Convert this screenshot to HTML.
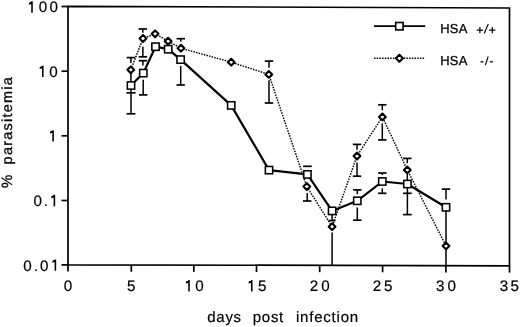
<!DOCTYPE html>
<html><head><meta charset="utf-8"><style>
html,body{margin:0;padding:0;background:#fff;width:520px;height:327px;overflow:hidden}
svg{display:block;filter:grayscale(1)}
text{font-family:"Liberation Sans", sans-serif}
</style></head><body>
<svg width="520" height="327" viewBox="0 0 520 327">
<path d="M68,6.3 L509.5,8 L509.5,265.8 L68,264.8 Z" fill="none" stroke="#000" stroke-width="1.7"/>
<line x1="61.5" y1="6.5" x2="68" y2="6.5" stroke="#000" stroke-width="1.7"/>
<line x1="61.5" y1="71.2" x2="68" y2="71.2" stroke="#000" stroke-width="1.7"/>
<line x1="61.5" y1="135.8" x2="68" y2="135.8" stroke="#000" stroke-width="1.7"/>
<line x1="61.5" y1="200.5" x2="68" y2="200.5" stroke="#000" stroke-width="1.7"/>
<line x1="61.5" y1="264.9" x2="68" y2="264.9" stroke="#000" stroke-width="1.7"/>
<line x1="68" y1="264.8" x2="68" y2="271.6" stroke="#000" stroke-width="1.7"/>
<line x1="131.3" y1="264.94337485843715" x2="131.3" y2="271.74337485843716" stroke="#000" stroke-width="1.7"/>
<line x1="193.8" y1="265.0849377123443" x2="193.8" y2="271.8849377123443" stroke="#000" stroke-width="1.7"/>
<line x1="256.5" y1="265.22695356738393" x2="256.5" y2="272.02695356738394" stroke="#000" stroke-width="1.7"/>
<line x1="319.7" y1="265.3701019252548" x2="319.7" y2="272.1701019252548" stroke="#000" stroke-width="1.7"/>
<line x1="382.6" y1="265.512570781427" x2="382.6" y2="272.312570781427" stroke="#000" stroke-width="1.7"/>
<line x1="445.9" y1="265.6559456398641" x2="445.9" y2="272.4559456398641" stroke="#000" stroke-width="1.7"/>
<line x1="509.5" y1="265.8" x2="509.5" y2="272.6" stroke="#000" stroke-width="1.7"/>
<polyline points="131,85.5 143.3,73.1 155.5,46.7 168.2,49.2 180.6,59.6 231.2,105.4 269,170.1 307.4,174.4 332.1,210.9 357.3,200.8 382.3,181.5 407.4,184 446,207.3" fill="none" stroke="#000" stroke-width="2.2" stroke-linejoin="round"/>
<polyline points="130.8,69.8 143,38.5 155.1,33.8 168.1,41.2 181,48.2 231.2,62.2 268.8,74.4 306.8,186.6 332.1,226.7 357.0,156.0 382.4,116.9 407.3,169.9 446,245.9" fill="none" stroke="#000" stroke-width="1.45" stroke-dasharray="1.5 1.2"/>
<line x1="130.9" y1="63.0" x2="130.9" y2="57.6" stroke="#000" stroke-width="1.5"/>
<line x1="130.9" y1="73.0" x2="130.9" y2="82.0" stroke="#000" stroke-width="1.5"/>
<line x1="131.0" y1="89.0" x2="131.0" y2="113.8" stroke="#000" stroke-width="1.5"/>
<line x1="142.8" y1="32.8" x2="142.8" y2="29.0" stroke="#000" stroke-width="1.5"/>
<line x1="142.9" y1="46.7" x2="142.9" y2="56.8" stroke="#000" stroke-width="1.5"/>
<line x1="142.9" y1="65.6" x2="142.9" y2="60.7" stroke="#000" stroke-width="1.5"/>
<line x1="143.2" y1="79.8" x2="143.2" y2="94.9" stroke="#000" stroke-width="1.5"/>
<line x1="180.8" y1="41.8" x2="180.8" y2="38.7" stroke="#000" stroke-width="1.5"/>
<line x1="180.7" y1="66.0" x2="180.7" y2="85.0" stroke="#000" stroke-width="1.5"/>
<line x1="269.0" y1="67.7" x2="269.0" y2="61.1" stroke="#000" stroke-width="1.5"/>
<line x1="269.0" y1="80.2" x2="269.0" y2="103.0" stroke="#000" stroke-width="1.5"/>
<line x1="307.2" y1="193.1" x2="307.2" y2="201.0" stroke="#000" stroke-width="1.5"/>
<line x1="332.1" y1="214.0" x2="332.1" y2="220.6" stroke="#000" stroke-width="1.5"/>
<line x1="332.1" y1="232.5" x2="332.1" y2="265.2" stroke="#000" stroke-width="1.5"/>
<line x1="357.0" y1="149.8" x2="357.0" y2="144.4" stroke="#000" stroke-width="1.5"/>
<line x1="357.0" y1="162.6" x2="357.0" y2="176.2" stroke="#000" stroke-width="1.5"/>
<line x1="357.3" y1="194.1" x2="357.3" y2="189.9" stroke="#000" stroke-width="1.5"/>
<line x1="357.3" y1="207.4" x2="357.3" y2="220.2" stroke="#000" stroke-width="1.5"/>
<line x1="382.3" y1="110.3" x2="382.3" y2="104.8" stroke="#000" stroke-width="1.5"/>
<line x1="382.3" y1="123.4" x2="382.3" y2="139.9" stroke="#000" stroke-width="1.5"/>
<line x1="382.3" y1="175.0" x2="382.3" y2="173.0" stroke="#000" stroke-width="1.5"/>
<line x1="382.3" y1="188.4" x2="382.3" y2="193.3" stroke="#000" stroke-width="1.5"/>
<line x1="407.3" y1="163.2" x2="407.3" y2="158.4" stroke="#000" stroke-width="1.5"/>
<line x1="407.3" y1="173.5" x2="407.3" y2="180.5" stroke="#000" stroke-width="1.5"/>
<line x1="407.4" y1="187.5" x2="407.4" y2="214.6" stroke="#000" stroke-width="1.5"/>
<line x1="446.0" y1="199.5" x2="446.0" y2="189.1" stroke="#000" stroke-width="1.5"/>
<line x1="446.0" y1="211.0" x2="446.0" y2="242.0" stroke="#000" stroke-width="1.5"/>
<line x1="446.0" y1="250.0" x2="446.0" y2="265.2" stroke="#000" stroke-width="1.5"/>
<line x1="126.7" y1="57.6" x2="135.1" y2="57.6" stroke="#000" stroke-width="1.7"/>
<line x1="126.6" y1="113.8" x2="135.4" y2="113.8" stroke="#000" stroke-width="1.7"/>
<line x1="126.4" y1="92.8" x2="135.6" y2="92.8" stroke="#000" stroke-width="1.7"/>
<line x1="138.60000000000002" y1="29.0" x2="147.0" y2="29.0" stroke="#000" stroke-width="1.7"/>
<line x1="138.70000000000002" y1="56.8" x2="147.1" y2="56.8" stroke="#000" stroke-width="1.7"/>
<line x1="138.70000000000002" y1="60.7" x2="147.1" y2="60.7" stroke="#000" stroke-width="1.7"/>
<line x1="139.0" y1="94.9" x2="147.39999999999998" y2="94.9" stroke="#000" stroke-width="1.7"/>
<line x1="176.60000000000002" y1="38.7" x2="185.0" y2="38.7" stroke="#000" stroke-width="1.7"/>
<line x1="176.5" y1="85.0" x2="184.89999999999998" y2="85.0" stroke="#000" stroke-width="1.7"/>
<line x1="264.8" y1="61.1" x2="273.2" y2="61.1" stroke="#000" stroke-width="1.7"/>
<line x1="264.8" y1="103.0" x2="273.2" y2="103.0" stroke="#000" stroke-width="1.7"/>
<line x1="303.09999999999997" y1="166.3" x2="311.7" y2="166.3" stroke="#000" stroke-width="1.7"/>
<line x1="303.0" y1="201.0" x2="311.4" y2="201.0" stroke="#000" stroke-width="1.7"/>
<line x1="328.70000000000005" y1="220.6" x2="335.5" y2="220.6" stroke="#000" stroke-width="1.7"/>
<line x1="352.8" y1="144.4" x2="361.2" y2="144.4" stroke="#000" stroke-width="1.7"/>
<line x1="352.8" y1="176.2" x2="361.2" y2="176.2" stroke="#000" stroke-width="1.7"/>
<line x1="353.1" y1="189.9" x2="361.5" y2="189.9" stroke="#000" stroke-width="1.7"/>
<line x1="353.1" y1="220.2" x2="361.5" y2="220.2" stroke="#000" stroke-width="1.7"/>
<line x1="378.1" y1="104.8" x2="386.5" y2="104.8" stroke="#000" stroke-width="1.7"/>
<line x1="378.1" y1="139.9" x2="386.5" y2="139.9" stroke="#000" stroke-width="1.7"/>
<line x1="378.1" y1="173.0" x2="386.5" y2="173.0" stroke="#000" stroke-width="1.7"/>
<line x1="378.1" y1="193.3" x2="386.5" y2="193.3" stroke="#000" stroke-width="1.7"/>
<line x1="403.1" y1="158.4" x2="411.5" y2="158.4" stroke="#000" stroke-width="1.7"/>
<line x1="403.09999999999997" y1="214.6" x2="411.7" y2="214.6" stroke="#000" stroke-width="1.7"/>
<line x1="403.09999999999997" y1="193.3" x2="411.7" y2="193.3" stroke="#000" stroke-width="1.7"/>
<line x1="441.8" y1="189.1" x2="450.2" y2="189.1" stroke="#000" stroke-width="1.7"/>
<rect x="127.35" y="81.85" width="7.3" height="7.3" fill="#fff" stroke="#000" stroke-width="1.55"/>
<rect x="139.65" y="69.44999999999999" width="7.3" height="7.3" fill="#fff" stroke="#000" stroke-width="1.55"/>
<rect x="151.85" y="43.050000000000004" width="7.3" height="7.3" fill="#fff" stroke="#000" stroke-width="1.55"/>
<rect x="164.54999999999998" y="45.550000000000004" width="7.3" height="7.3" fill="#fff" stroke="#000" stroke-width="1.55"/>
<rect x="176.95" y="55.95" width="7.3" height="7.3" fill="#fff" stroke="#000" stroke-width="1.55"/>
<rect x="227.54999999999998" y="101.75" width="7.3" height="7.3" fill="#fff" stroke="#000" stroke-width="1.55"/>
<rect x="265.35" y="166.45" width="7.3" height="7.3" fill="#fff" stroke="#000" stroke-width="1.55"/>
<rect x="303.75" y="170.75" width="7.3" height="7.3" fill="#fff" stroke="#000" stroke-width="1.55"/>
<rect x="328.45000000000005" y="207.25" width="7.3" height="7.3" fill="#fff" stroke="#000" stroke-width="1.55"/>
<rect x="353.65000000000003" y="197.15" width="7.3" height="7.3" fill="#fff" stroke="#000" stroke-width="1.55"/>
<rect x="378.65000000000003" y="177.85" width="7.3" height="7.3" fill="#fff" stroke="#000" stroke-width="1.55"/>
<rect x="403.75" y="180.35" width="7.3" height="7.3" fill="#fff" stroke="#000" stroke-width="1.55"/>
<rect x="442.35" y="203.65" width="7.3" height="7.3" fill="#fff" stroke="#000" stroke-width="1.55"/>
<path d="M130.8,66.39999999999999 L134.20000000000002,69.8 L130.8,73.2 L127.4,69.8 Z" fill="#fff" stroke="#000" stroke-width="2.1" stroke-linejoin="round"/>
<path d="M143,35.1 L146.4,38.5 L143,41.9 L139.6,38.5 Z" fill="#fff" stroke="#000" stroke-width="2.1" stroke-linejoin="round"/>
<path d="M155.1,30.4 L158.5,33.8 L155.1,37.199999999999996 L151.7,33.8 Z" fill="#fff" stroke="#000" stroke-width="2.1" stroke-linejoin="round"/>
<path d="M168.1,37.800000000000004 L171.5,41.2 L168.1,44.6 L164.7,41.2 Z" fill="#fff" stroke="#000" stroke-width="2.1" stroke-linejoin="round"/>
<path d="M181,44.800000000000004 L184.4,48.2 L181,51.6 L177.6,48.2 Z" fill="#fff" stroke="#000" stroke-width="2.1" stroke-linejoin="round"/>
<path d="M231.2,58.800000000000004 L234.6,62.2 L231.2,65.60000000000001 L227.79999999999998,62.2 Z" fill="#fff" stroke="#000" stroke-width="2.1" stroke-linejoin="round"/>
<path d="M268.8,71.0 L272.2,74.4 L268.8,77.80000000000001 L265.40000000000003,74.4 Z" fill="#fff" stroke="#000" stroke-width="2.1" stroke-linejoin="round"/>
<path d="M306.8,183.2 L310.2,186.6 L306.8,190.0 L303.40000000000003,186.6 Z" fill="#fff" stroke="#000" stroke-width="2.1" stroke-linejoin="round"/>
<path d="M332.1,223.29999999999998 L335.5,226.7 L332.1,230.1 L328.70000000000005,226.7 Z" fill="#fff" stroke="#000" stroke-width="2.1" stroke-linejoin="round"/>
<path d="M357.0,152.6 L360.4,156.0 L357.0,159.4 L353.6,156.0 Z" fill="#fff" stroke="#000" stroke-width="2.1" stroke-linejoin="round"/>
<path d="M382.4,113.5 L385.79999999999995,116.9 L382.4,120.30000000000001 L379.0,116.9 Z" fill="#fff" stroke="#000" stroke-width="2.1" stroke-linejoin="round"/>
<path d="M407.3,166.5 L410.7,169.9 L407.3,173.3 L403.90000000000003,169.9 Z" fill="#fff" stroke="#000" stroke-width="2.1" stroke-linejoin="round"/>
<path d="M446,242.5 L449.4,245.9 L446,249.3 L442.6,245.9 Z" fill="#fff" stroke="#000" stroke-width="2.1" stroke-linejoin="round"/>
<line x1="374" y1="26.2" x2="425.2" y2="26.2" stroke="#000" stroke-width="1.7"/>
<rect x="395.7" y="22.5" width="7.4" height="7.4" fill="#fff" stroke="#000" stroke-width="1.6"/>
<line x1="374" y1="58.3" x2="425" y2="58.3" stroke="#000" stroke-width="1.45" stroke-dasharray="1.5 1.2"/>
<path d="M399.4,54.8 L402.9,58.3 L399.4,61.8 L395.9,58.3 Z" fill="#fff" stroke="#000" stroke-width="2.1" stroke-linejoin="round"/>
<path d="M31.22,1.30 L32.78,1.30 L32.78,12.65 L31.22,12.65 Z M31.42,1.30 L31.22,3.90 L28.90,4.70 L28.90,2.90 Z" fill="#000"/>
<text transform="translate(38.87,12.40) scale(1,1.0)" font-size="15.2" font-family="Liberation Sans, sans-serif" text-rendering="geometricPrecision" fill="#000" stroke="#000" stroke-width="0.22">0</text>
<text transform="translate(49.57,12.40) scale(1,1.0)" font-size="15.2" font-family="Liberation Sans, sans-serif" text-rendering="geometricPrecision" fill="#000" stroke="#000" stroke-width="0.22">0</text>
<path d="M42.02,65.70 L43.58,65.70 L43.58,77.05 L42.02,77.05 Z M42.22,65.70 L42.02,68.30 L39.70,69.10 L39.70,67.30 Z" fill="#000"/>
<text transform="translate(49.17,76.80) scale(1,1.0)" font-size="15.2" font-family="Liberation Sans, sans-serif" text-rendering="geometricPrecision" fill="#000" stroke="#000" stroke-width="0.22">0</text>
<path d="M52.32,130.20 L53.88,130.20 L53.88,141.55 L52.32,141.55 Z M52.52,130.20 L52.32,132.80 L50.00,133.60 L50.00,131.80 Z" fill="#000"/>
<text transform="translate(33.52,205.90) scale(1,1.0)" font-size="15.2" font-family="Liberation Sans, sans-serif" text-rendering="geometricPrecision" fill="#000" stroke="#000" stroke-width="0.22">0</text>
<text transform="translate(43.84,205.90) scale(1,1.0)" font-size="15.2" font-family="Liberation Sans, sans-serif" text-rendering="geometricPrecision" fill="#000" stroke="#000" stroke-width="0.22">.</text>
<path d="M53.62,194.80 L55.18,194.80 L55.18,206.15 L53.62,206.15 Z M53.82,194.80 L53.62,197.40 L51.30,198.20 L51.30,196.40 Z" fill="#000"/>
<text transform="translate(23.37,270.50) scale(1,1.0)" font-size="15.2" font-family="Liberation Sans, sans-serif" text-rendering="geometricPrecision" fill="#000" stroke="#000" stroke-width="0.22">0</text>
<text transform="translate(33.74,270.50) scale(1,1.0)" font-size="15.2" font-family="Liberation Sans, sans-serif" text-rendering="geometricPrecision" fill="#000" stroke="#000" stroke-width="0.22">.</text>
<text transform="translate(40.02,270.50) scale(1,1.0)" font-size="15.2" font-family="Liberation Sans, sans-serif" text-rendering="geometricPrecision" fill="#000" stroke="#000" stroke-width="0.22">0</text>
<path d="M54.62,259.40 L56.18,259.40 L56.18,270.75 L54.62,270.75 Z M54.82,259.40 L54.62,262.00 L52.30,262.80 L52.30,261.00 Z" fill="#000"/>
<text transform="translate(63.67,291.20) scale(1,1.0)" font-size="15.2" font-family="Liberation Sans, sans-serif" text-rendering="geometricPrecision" fill="#000" stroke="#000" stroke-width="0.22">0</text>
<text transform="translate(126.94,291.20) scale(1,1.0)" font-size="15.2" font-family="Liberation Sans, sans-serif" text-rendering="geometricPrecision" fill="#000" stroke="#000" stroke-width="0.22">5</text>
<path d="M188.22,280.10 L189.78,280.10 L189.78,291.45 L188.22,291.45 Z M188.42,280.10 L188.22,282.70 L185.90,283.50 L185.90,281.70 Z" fill="#000"/>
<text transform="translate(195.27,291.20) scale(1,1.0)" font-size="15.2" font-family="Liberation Sans, sans-serif" text-rendering="geometricPrecision" fill="#000" stroke="#000" stroke-width="0.22">0</text>
<path d="M250.97,280.10 L252.53,280.10 L252.53,291.45 L250.97,291.45 Z M251.17,280.10 L250.97,282.70 L248.65,283.50 L248.65,281.70 Z" fill="#000"/>
<text transform="translate(258.09,291.20) scale(1,1.0)" font-size="15.2" font-family="Liberation Sans, sans-serif" text-rendering="geometricPrecision" fill="#000" stroke="#000" stroke-width="0.22">5</text>
<text transform="translate(309.77,291.20) scale(1,1.0)" font-size="15.2" font-family="Liberation Sans, sans-serif" text-rendering="geometricPrecision" fill="#000" stroke="#000" stroke-width="0.22">2</text>
<text transform="translate(321.17,291.20) scale(1,1.0)" font-size="15.2" font-family="Liberation Sans, sans-serif" text-rendering="geometricPrecision" fill="#000" stroke="#000" stroke-width="0.22">0</text>
<text transform="translate(372.77,291.20) scale(1,1.0)" font-size="15.2" font-family="Liberation Sans, sans-serif" text-rendering="geometricPrecision" fill="#000" stroke="#000" stroke-width="0.22">2</text>
<text transform="translate(383.89,291.20) scale(1,1.0)" font-size="15.2" font-family="Liberation Sans, sans-serif" text-rendering="geometricPrecision" fill="#000" stroke="#000" stroke-width="0.22">5</text>
<text transform="translate(435.97,291.20) scale(1,1.0)" font-size="15.2" font-family="Liberation Sans, sans-serif" text-rendering="geometricPrecision" fill="#000" stroke="#000" stroke-width="0.22">3</text>
<text transform="translate(447.47,291.20) scale(1,1.0)" font-size="15.2" font-family="Liberation Sans, sans-serif" text-rendering="geometricPrecision" fill="#000" stroke="#000" stroke-width="0.22">0</text>
<text transform="translate(499.72,291.20) scale(1,1.0)" font-size="15.2" font-family="Liberation Sans, sans-serif" text-rendering="geometricPrecision" fill="#000" stroke="#000" stroke-width="0.22">3</text>
<text transform="translate(510.59,291.20) scale(1,1.0)" font-size="15.2" font-family="Liberation Sans, sans-serif" text-rendering="geometricPrecision" fill="#000" stroke="#000" stroke-width="0.22">5</text>
<text x="440.15" y="32.6" font-size="13" letter-spacing="0.3" font-family="Liberation Sans, sans-serif" text-rendering="geometricPrecision" fill="#000" stroke="#000" stroke-width="0.28">HSA</text>
<text x="440.15" y="64.6" font-size="13" letter-spacing="0.3" font-family="Liberation Sans, sans-serif" text-rendering="geometricPrecision" fill="#000" stroke="#000" stroke-width="0.28">HSA</text>
<path d="M476.79999999999995,30.1 H483.0 M479.9,27.0 V33.2" stroke="#000" stroke-width="1.2" fill="none"/>
<line x1="488.3" y1="23.9" x2="484.2" y2="33.5" stroke="#000" stroke-width="1.15"/>
<path d="M489.2,30.1 H495.40000000000003 M492.3,27.0 V33.2" stroke="#000" stroke-width="1.2" fill="none"/>
<path d="M480.5,61.9 H483.4 M489.9,61.9 H492.9" stroke="#000" stroke-width="1.3" fill="none"/>
<line x1="488.2" y1="56.3" x2="485.4" y2="65.1" stroke="#000" stroke-width="1.15"/>
<text x="207.3" y="322.0" font-size="15" letter-spacing="0.7" font-family="Liberation Sans, sans-serif" text-rendering="geometricPrecision" fill="#000" stroke="#000" stroke-width="0.18">days</text>
<text x="252.84" y="322.0" font-size="15" letter-spacing="0.7" font-family="Liberation Sans, sans-serif" text-rendering="geometricPrecision" fill="#000" stroke="#000" stroke-width="0.18">post</text>
<text x="295.9" y="322.0" font-size="15" letter-spacing="0.8" font-family="Liberation Sans, sans-serif" text-rendering="geometricPrecision" fill="#000" stroke="#000" stroke-width="0.18">infection</text>
<text transform="translate(12.3,188.0) rotate(-90)" font-size="15" font-family="Liberation Sans, sans-serif" text-rendering="geometricPrecision" fill="#000" stroke="#000" stroke-width="0.3">%</text>
<text transform="translate(12.4,164.4) rotate(-90)" font-size="14.5" letter-spacing="1.22" font-family="Liberation Sans, sans-serif" text-rendering="geometricPrecision" fill="#000" stroke="#000" stroke-width="0.3">parasitemia</text>
</svg>
</body></html>
